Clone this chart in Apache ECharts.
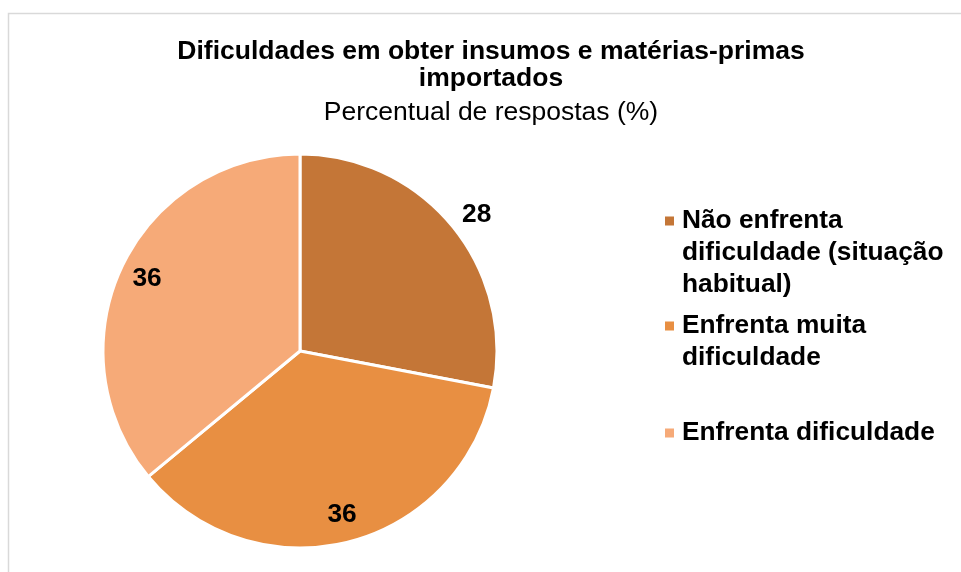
<!DOCTYPE html>
<html>
<head>
<meta charset="utf-8">
<script src="https://cdn.jsdelivr.net/npm/echarts@6/dist/echarts.min.js"></script>
<style>
html,body{margin:0;padding:0;background:#fff;}
#chart{width:961px;height:572px;}
</style>
</head>
<body>
<div id="chart"></div>
<script>
// ---- data ----
var categories = ['Não enfrenta dificuldade (situação habitual)', 'Enfrenta muita dificuldade', 'Enfrenta dificuldade'];
var values = [28, 36, 36];
var legendLines = [
  'Não enfrenta\ndificuldade (situação\nhabitual)',
  'Enfrenta muita\ndificuldade',
  'Enfrenta dificuldade'
];
var colors = ['#C47637', '#E88F42', '#F6AA78'];
var titleText = 'Dificuldades em obter insumos e matérias-primas\nimportados';
var subtitleText = 'Percentual de respostas (%)';

var FONT = '"Liberation Sans", Arial, sans-serif';
var chart = echarts.init(document.getElementById('chart'));

function pieData(showIdx) {
  return categories.map(function (c, i) {
    return {
      name: c,
      value: values[i],
      label: { show: showIdx.indexOf(i) >= 0 }
    };
  });
}

// one legend per item so the square marker sits beside the first text line
var LINE_H = 32;
var legendTops = [200, 305, 412];
var legends = categories.map(function (c, i) {
  var nLines = legendLines[i].split('\n').length;
  var h = 9 + LINE_H * (nLines - 1);
  return {
    data: [c],
    orient: 'vertical',
    left: 660,
    top: legendTops[i],
    icon: 'path://M0 0H9V9H0Z M0 ' + h + 'L12 ' + h,
    itemWidth: 12,
    itemHeight: h,
    selectedMode: false,
    itemStyle: { borderWidth: 0 },
    formatter: function (name) { return legendLines[categories.indexOf(name)]; },
    textStyle: {
      fontFamily: FONT, fontSize: 26.3, fontWeight: 'bold', color: '#000',
      lineHeight: LINE_H
    }
  };
});

var labelStyle = {
  position: 'inside', formatter: '{c}',
  fontFamily: FONT, fontSize: 26.3, fontWeight: 'bold', color: '#000'
};

chart.setOption({
  animation: false,
  color: colors,
  title: {
    text: titleText,
    subtext: subtitleText,
    left: 486,
    top: 33,
    textAlign: 'center',
    padding: 5,
    itemGap: 7,
    textStyle: { fontFamily: FONT, fontSize: 26.5, fontWeight: 'bold', color: '#000', lineHeight: 27 },
    subtextStyle: { fontFamily: FONT, fontSize: 26.5, color: '#000', lineHeight: 27 }
  },
  legend: legends,
  graphic: [{
    type: 'rect', silent: true, z: -10,
    shape: { x: 8.5, y: 13.5, width: 1000, height: 600 },
    style: { fill: 'none', stroke: '#D9D9D9', lineWidth: 1.5 }
  }],
  series: [
    {
      type: 'pie',
      center: [300, 351],
      radius: [0, 197],
      startAngle: 90,
      clockwise: true,
      label: { show: false },
      labelLine: { show: false },
      itemStyle: { borderColor: '#fff', borderWidth: 3 },
      emphasis: { disabled: true },
      data: categories.map(function (c, i) { return { name: c, value: values[i] }; })
    },
    {
      type: 'pie', silent: true,
      center: [300, 351],
      radius: [136, 196],
      startAngle: 90,
      itemStyle: { color: 'rgba(0,0,0,0)' },
      label: labelStyle,
      labelLine: { show: false },
      emphasis: { disabled: true },
      data: pieData([1, 2])
    },
    {
      type: 'pie', silent: true,
      center: [300, 351],
      radius: [196, 244],
      startAngle: 88,
      itemStyle: { color: 'rgba(0,0,0,0)' },
      label: labelStyle,
      labelLine: { show: false },
      emphasis: { disabled: true },
      data: pieData([0])
    }
  ]
});
</script>
</body>
</html>
